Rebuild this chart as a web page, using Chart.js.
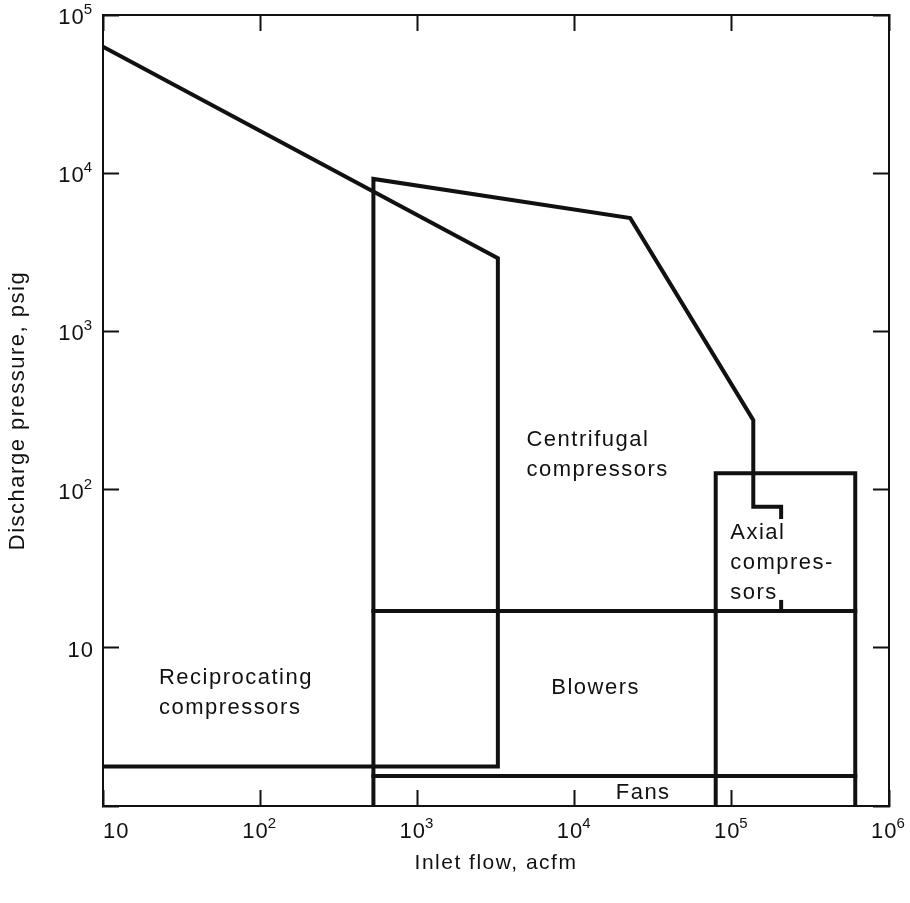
<!DOCTYPE html>
<html>
<head>
<meta charset="utf-8">
<title>Compressor ranges</title>
<script src="https://cdn.jsdelivr.net/npm/chart.js@4.4.1/dist/chart.umd.min.js"></script>
<style>
    html, body { margin: 0; padding: 0; background: #fff; }
    #wrap { width: 910px; height: 903px; }
</style>
</head>
<body>
<div id="wrap"><canvas id="myChart"></canvas></div>
<script>
// log decades on both axes
const xTicks = [10, 1e2, 1e3, 1e4, 1e5, 1e6];
const yTicks = [1, 10, 1e2, 1e3, 1e4, 1e5];
const xTickLabels = ['10', '10^2', '10^3', '10^4', '10^5', '10^6'];
const yTickLabels = ['', '10', '10^2', '10^3', '10^4', '10^5'];

// boundaries, inlet flow (acfm) vs discharge pressure (psig)
const recipFlow = [10, 3250, 3250, 10];
const recipPress = [63000, 2900, 1.78, 1.78];

const centFlow = [525, 525, 22600, 137000, 137000, 206000, 206000];
const centPress = [1, 9200, 5200, 275, 78, 78, 67];

const blowerFlow = [525, 610000];
const blowerPress = [17.1, 17.1];

const fanFlow = [525, 610000];
const fanPress = [1.55, 1.55];

const axialFlow = [79000, 79000, 610000, 610000];
const axialPress = [1, 127, 127, 1];

const markFlow = [206000, 206000];
const markPress = [17.1, 19.5];

// region names and where they sit (flow, pressure of first line)
const regionNames = [['Centrifugal', 'compressors'], ['Reciprocating', 'compressors'], ['Blowers'], ['Axial', 'compres-', 'sors'], ['Fans']];
const regionFlow = [4940, 22.7, 13600, 97700, 27300];
const regionPress = [206, 6.44, 5.57, 53.2, 1.21];
const regionAlign = ['left', 'left', 'center', 'left', 'center'];

window.onload = function() {
    let ink = '#111';

    function toPoints(xs, ys) {
        return xs.map((x, i) => ({ x: x, y: ys[i] }));
    }

    function boundary(xs, ys) {
        return {
            data: toPoints(xs, ys),
            showLine: true,
            borderColor: ink,
            borderWidth: 4,
            pointRadius: 0,
            fill: false,
            borderJoinStyle: 'miter',
            borderCapStyle: 'square'
        };
    }

    function axis(pos, min, max, ticks, size) {
        let horizontal = (pos === 'top' || pos === 'bottom');
        return {
            type: 'logarithmic',
            position: pos,
            min: min,
            max: max,
            afterBuildTicks: function(scale) {
                scale.ticks = ticks.map(v => ({ value: v }));
            },
            afterFit: function(scale) {
                if (horizontal) scale.height = size; else scale.width = size;
            },
            ticks: { display: false },
            border: { display: true, color: ink, width: 2 },
            grid: {
                drawOnChartArea: false,
                drawTicks: true,
                tickLength: -16,
                tickWidth: 2,
                tickColor: ink
            }
        };
    }

    let scales = {
        x: axis('bottom', 10, 1e6, xTicks, 97),
        x2: axis('top', 10, 1e6, xTicks, 15),
        y: axis('left', 1, 1e5, yTicks, 103),
        y2: axis('right', 1, 1e5, yTicks, 21)
    };
    scales.x.title = {
        display: true, text: 'Inlet flow, acfm', color: ink,
        font: { family: 'Liberation Sans', size: 21 }, padding: { bottom: 27 }
    };
    scales.y.title = {
        display: true, text: 'Discharge pressure, psig', color: ink,
        font: { family: 'Liberation Sans', size: 22 }, padding: { top: 5 }
    };

    // tick labels like 10^3 with raised exponent, plus the region names
    let textPlugin = {
        id: 'texts',
        beforeDraw: function(chart) {
            chart.ctx.letterSpacing = '1.5px';
        },
        afterDraw: function(chart) {
            let ctx = chart.ctx;
            let xs = chart.scales.x;
            let ys = chart.scales.y;
            ctx.save();
            ctx.fillStyle = ink;
            ctx.letterSpacing = '1px';
            ctx.textBaseline = 'alphabetic';
            ctx.textAlign = 'left';

            function label(text, px, baseY, align) {
                let parts = text.split('^');
                ctx.font = '22px "Liberation Sans"';
                let wb = ctx.measureText(parts[0]).width;
                ctx.font = '15px "Liberation Sans"';
                let we = parts[1] ? ctx.measureText(parts[1]).width : 0;
                let left = px - (wb + we) / 2;
                if (align === 'left') left = px;
                if (align === 'right') left = px - wb - we;
                ctx.font = '22px "Liberation Sans"';
                ctx.fillText(parts[0], left, baseY);
                if (parts[1]) {
                    ctx.font = '15px "Liberation Sans"';
                    ctx.fillText(parts[1], left + wb - 1, baseY - 10);
                }
            }

            xTicks.forEach(function(v, i) {
                let px = xs.getPixelForValue(v);
                label(xTickLabels[i], px, 838, i === 0 ? 'left' : 'center');
            });
            yTicks.forEach(function(v, i) {
                if (!yTickLabels[i]) return;
                let py = ys.getPixelForValue(v);
                label(yTickLabels[i], 94, py + 9, 'right');
            });

            ctx.font = '22px "Liberation Sans"';
            ctx.letterSpacing = '1.5px';
            ctx.textBaseline = 'middle';
            regionNames.forEach(function(lines, i) {
                let px = xs.getPixelForValue(regionFlow[i]);
                let py = ys.getPixelForValue(regionPress[i]);
                ctx.textAlign = regionAlign[i];
                lines.forEach(function(line, j) {
                    ctx.fillText(line, px, py + j * 30);
                });
            });
            ctx.restore();
        }
    };

    let ctx = document.getElementById('myChart').getContext('2d');
    let myChart = new Chart(ctx, {
        type: 'scatter',
        data: {
            datasets: [
                boundary(recipFlow, recipPress),
                boundary(centFlow, centPress),
                boundary(blowerFlow, blowerPress),
                boundary(fanFlow, fanPress),
                boundary(axialFlow, axialPress),
                boundary(markFlow, markPress)
            ]
        },
        options: {
            responsive: true,
            maintainAspectRatio: false,
            animation: false,
            events: [],
            layout: { padding: 0 },
            plugins: { legend: { display: false }, tooltip: { enabled: false } },
            scales: scales
        },
        plugins: [textPlugin]
    });
};
</script>
</body>
</html>
